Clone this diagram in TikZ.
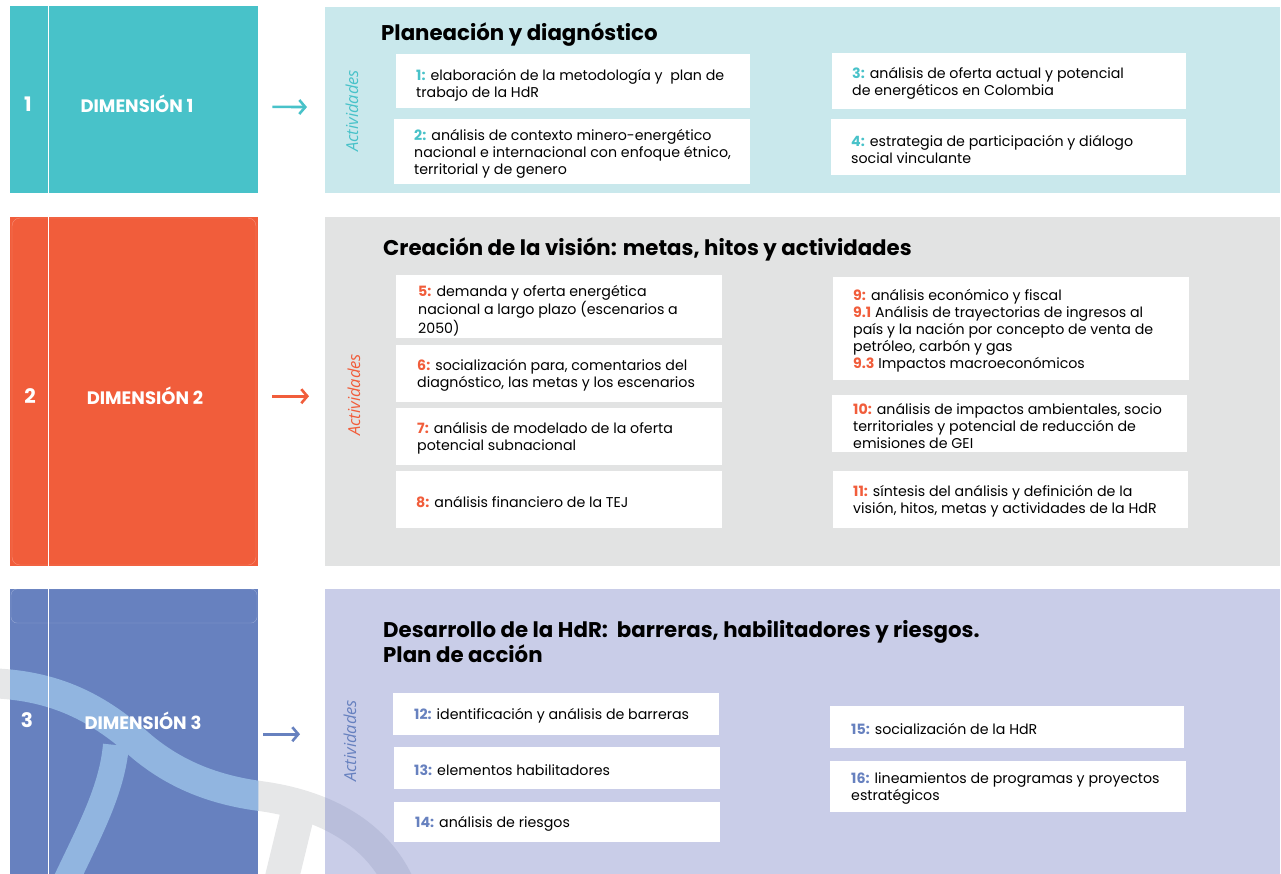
\documentclass[tikz,border=0pt]{standalone}
\usepackage{fontspec}
\setmainfont{Poppins}
\newfontfamily\actfont{Open Sans}
\usetikzlibrary{arrows.meta, positioning}
\definecolor{cteal}{HTML}{48C2C9}
\definecolor{ctealpale}{HTML}{C9E8EC}
\definecolor{corange}{HTML}{F15D3B}
\definecolor{cgraypale}{HTML}{E2E3E3}
\definecolor{cblue}{HTML}{6781BF}
\definecolor{cbluepale}{HTML}{C9CDE8}
\definecolor{cband}{HTML}{E6E7E8}
\definecolor{cbandblue}{HTML}{91B5E0}
\definecolor{cbandlav}{HTML}{B9BEDB}
\newcommand{\nr}[2]{\textcolor{#1}{\textbf{#2}}}
\newcommand{\drawbands}[1]{%
  \draw[band, draw=#1] (-20,683) .. controls (50,683) and (95,705) .. (140,745)
    .. controls (175,775) and (215,790) .. (260,796)
    .. controls (320,804) and (375,830) .. (400,885);
  \draw[band, draw=#1, line width=26pt] (116,745) .. controls (112,790) and (90,830) .. (64,885);
  \draw[band, draw=#1, line width=34pt] (279,890) -- (302,795);
}
\tikzset{
	dimbox/.style={
			anchor=north west,
			minimum width=248pt,
			inner sep=0pt,
			draw=none
		},
	panel/.style={
			anchor=north west,
			minimum width=955pt,
			inner sep=0pt,
			draw=none
		},
	actbox/.style={
			anchor=north west,
			fill=white,
			inner sep=0pt
		},
	acttext/.style={
			inner sep=0pt,
			align=left,
			yshift=-2pt,
			font=\fontsize{14.2}{17}\selectfont
		},
	dimlabel/.style={
			text=white,
			font=\fontsize{18}{20}\selectfont\bfseries
		},
	dimnum/.style={
			text=white,
			font=\fontsize{20}{22}\selectfont\bfseries
		},
	paneltitle/.style={
			anchor=west,
			inner sep=0pt,
			align=left,
			font=\fontsize{21.3}{25}\selectfont\bfseries
		},
	actlabel/.style={
			rotate=90,
			font=\actfont\itshape\fontsize{16.5}{18}\selectfont
		},
	dimarrow/.style={
			-{Straight Barb[length=6pt,width=14pt]},
			line width=2.6pt
		},
	divline/.style={white, line width=0.8pt},
	band/.style={line width=30pt}
}

\begin{document}
\begin{tikzpicture}[x=1pt, y=-1pt]
\useasboundingbox (0,0) rectangle (1281,873);

% background bands
\drawbands{cband}

% dimension 1
\node[dimbox, fill=cteal, minimum height=187pt] (d1) at (10,6) {};
\node[panel, fill=ctealpale, minimum height=186pt] (p1) at (325,7) {};
\draw[divline] ([xshift=38pt]d1.north west) -- ([xshift=38pt]d1.south west);
\node[dimnum] (n1) at (28,104) {1};
\node[dimlabel] (l1) at (137,104) {DIMENSIÓN 1};
\draw[dimarrow, cteal, shorten <=14pt, shorten >=18pt] ([yshift=-7pt]d1.east) -- ([yshift=-7pt]p1.west);
\node[paneltitle] (h1) at (381,35) {Planeación y diagnóstico};
\node[actlabel, text=cteal] (a1) at (352,111) {Actividades};

\node[actbox, minimum width=354pt, minimum height=54pt] (b1) at (396,54) {};
\node[acttext, right=20pt of b1.west, yshift=-2pt] (t1) {\nr{cteal}{1:} elaboración de la metodología y\ \ plan de\\trabajo de la HdR};
\node[actbox, minimum width=356pt, minimum height=65pt] (b2) at (394,119) {};
\node[acttext, right=20pt of b2.west] (t2) {\nr{cteal}{2:} análisis de contexto minero-energético\\nacional e internacional con enfoque étnico,\\territorial y de genero};
\node[actbox, minimum width=354pt, minimum height=56pt] (b3) at (832,53) {};
\node[acttext, right=20pt of b3.west] (t3) {\nr{cteal}{3:} análisis de oferta actual y potencial\\de energéticos en Colombia};
\node[actbox, minimum width=355pt, minimum height=56pt] (b4) at (831,119) {};
\node[acttext, right=20pt of b4.west] (t4) {\nr{cteal}{4:} estrategia de participación y diálogo\\social vinculante};

% dimension 2
\node[dimbox, fill=corange, minimum height=349pt] (d2) at (10,217) {};
\node[panel, fill=cgraypale, minimum height=349pt] (p2) at (325,217) {};
\draw[white, opacity=.3, rounded corners=8pt] (12,218) rectangle (256,565);
\draw[divline] ([xshift=38pt]d2.north west) -- ([xshift=38pt]d2.south west);
\node[dimnum] (n2) at (30,396) {2};
\node[dimlabel] (l2) at (145,396) {DIMENSIÓN 2};
\draw[dimarrow, corange, shorten <=14pt, shorten >=16pt] ([yshift=-4.5pt]d2.east) -- ([yshift=-4.5pt]p2.west);
\node[paneltitle] (h2) at (383,249) {Creación de la visión: metas, hitos y actividades};
\node[actlabel, text=corange] (a2) at (354,395) {Actividades};

\node[actbox, minimum width=326pt, minimum height=63pt] (b5) at (396,275) {};
\node[acttext, right=22pt of b5.west, yshift=-2pt] (t5) {\nr{corange}{5:} demanda y oferta energética\\nacional a largo plazo (escenarios a\\2050)};
\node[actbox, minimum width=326pt, minimum height=57pt] (b6) at (396,345) {};
\node[acttext, right=21pt of b6.west] (t6) {\nr{corange}{6:} socialización para, comentarios del\\diagnóstico, las metas y los escenarios};
\node[actbox, minimum width=326pt, minimum height=57pt] (b7) at (396,408) {};
\node[acttext, right=21pt of b7.west] (t7) {\nr{corange}{7:} análisis de modelado de la oferta\\potencial subnacional};
\node[actbox, minimum width=326pt, minimum height=57pt] (b8) at (396,471) {};
\node[acttext, right=20pt of b8.west] (t8) {\nr{corange}{8:} análisis financiero de la TEJ};
\node[actbox, minimum width=356pt, minimum height=103pt] (b9) at (833,277) {};
\node[acttext, right=20pt of b9.west] (t9) {\nr{corange}{9:} análisis económico y fiscal\\\nr{corange}{9.1} Análisis de trayectorias de ingresos al\\país y la nación por concepto de venta de\\petróleo, carbón y gas\\\nr{corange}{9.3} Impactos macroeconómicos};
\node[actbox, minimum width=355pt, minimum height=57pt] (b10) at (832,395) {};
\node[acttext, right=21pt of b10.west] (t10) {\nr{corange}{10:} análisis de impactos ambientales, socio\\territoriales y potencial de reducción de\\emisiones de GEI};
\node[actbox, minimum width=355pt, minimum height=57pt] (b11) at (833,471) {};
\node[acttext, right=20pt of b11.west] (t11) {\nr{corange}{11:} síntesis del análisis y definición de la\\visión, hitos, metas y actividades de la HdR};

% dimension 3
\node[dimbox, fill=cblue, minimum height=290pt] (d3) at (10,589) {};
\node[panel, fill=cbluepale, minimum height=290pt] (p3) at (325,589) {};
\begin{scope}
  \clip (d3.north west) rectangle (d3.south east);
  \drawbands{cbandblue}
\end{scope}
\begin{scope}
  \clip (p3.north west) rectangle (p3.south east);
  \drawbands{cbandlav}
\end{scope}
\draw[white, opacity=.3, rounded corners=6pt] (11,589) rectangle (257,623);
\draw[divline] ([xshift=38pt]d3.north west) -- ([xshift=38pt]d3.south west);
\node[dimnum] (n3) at (27,720) {3};
\node[dimlabel] (l3) at (143,721) {DIMENSIÓN 3};
\draw[dimarrow, cblue, shorten <=5pt, shorten >=25pt] (d3.east) -- (p3.west);
\node[paneltitle] (h3) at (383,642) {Desarrollo de la HdR:\ \ barreras, habilitadores y riesgos.\\Plan de acción};
\node[actlabel, text=cblue] (a3) at (350,741) {Actividades};

\node[actbox, minimum width=326pt, minimum height=42pt] (b12) at (393,693) {};
\node[acttext, right=21pt of b12.west] (t12) {\nr{cblue}{12:} identificación y análisis de barreras};
\node[actbox, minimum width=326pt, minimum height=42pt] (b13) at (394,747) {};
\node[acttext, right=20pt of b13.west] (t13) {\nr{cblue}{13:} elementos habilitadores};
\node[actbox, minimum width=326pt, minimum height=40pt] (b14) at (394,802) {};
\node[acttext, right=21pt of b14.west] (t14) {\nr{cblue}{14:} análisis de riesgos};
\node[actbox, minimum width=354pt, minimum height=42pt] (b15) at (830,706) {};
\node[acttext, right=21pt of b15.west] (t15) {\nr{cblue}{15:} socialización de la HdR};
\node[actbox, minimum width=356pt, minimum height=51pt] (b16) at (830,761) {};
\node[acttext, right=21pt of b16.west] (t16) {\nr{cblue}{16:} lineamientos de programas y proyectos\\estratégicos};

\end{tikzpicture}
\end{document}
